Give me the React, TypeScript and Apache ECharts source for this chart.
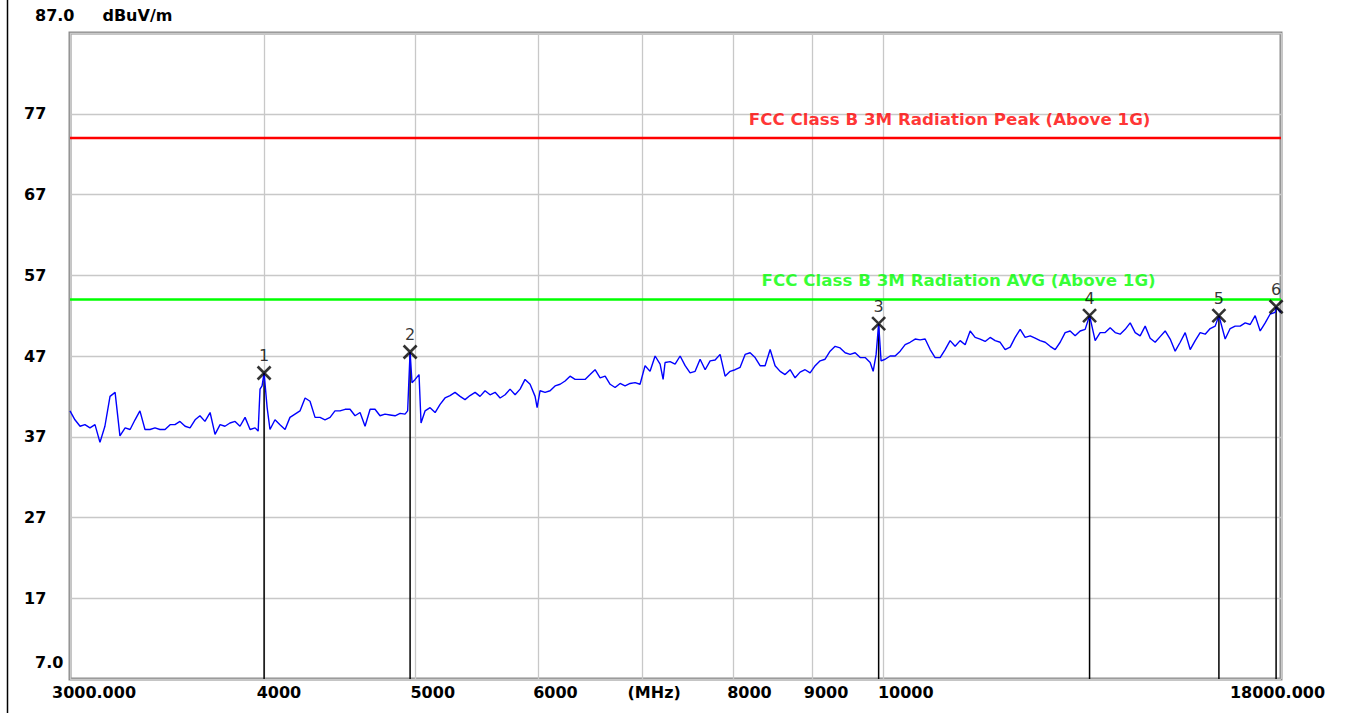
import React, { useEffect, useRef } from 'react';
import * as echarts from 'echarts';

const FREQ_MHZ = [
  3000, 3022, 3045, 3067, 3090, 3113, 3136, 3159, 3183, 3207, 3230, 3255, 3279, 3303, 3327, 3352, 3377, 3402, 3427, 3453,
  3479, 3504, 3530, 3557, 3583, 3610, 3636, 3663, 3691, 3718, 3746, 3773, 3801, 3830, 3858, 3887, 3916, 3945, 3963, 3974, 3986, 3998, 4016,
  4033, 4063, 4093, 4124, 4154, 4185, 4216, 4248, 4279, 4311, 4343, 4375, 4408, 4440, 4473, 4507, 4540, 4574, 4608, 4642,
  4677, 4711, 4746, 4781, 4817, 4853, 4889, 4925, 4944, 4952, 4962, 4976, 4999, 5028, 5043, 5073, 5111, 5149, 5187, 5225, 5264, 5303, 5343, 5382,
  5422, 5463, 5503, 5544, 5585, 5627, 5669, 5711, 5753, 5796, 5839, 5882, 5926, 5970, 5988, 6014, 6059, 6104, 6149, 6195, 6241,
  6287, 6334, 6381, 6428, 6476, 6524, 6573, 6622, 6671, 6720, 6770, 6820, 6871, 6922, 6973, 7025, 7077, 7130, 7183, 7215, 7236,
  7290, 7344, 7399, 7454, 7509, 7565, 7621, 7678, 7735, 7792, 7850, 7908, 7967, 8026, 8086, 8146, 8206, 8267, 8328, 8390,
  8453, 8515, 8579, 8642, 8707, 8771, 8836, 8902, 8968, 9035, 9102, 9169, 9237, 9306, 9375, 9445, 9515, 9586, 9657, 9729,
  9801, 9845, 9888, 9925, 9961, 10021, 10095, 10170, 10246, 10322, 10398, 10476, 10553, 10632, 10711, 10790, 10870, 10951, 11032, 11114, 11197, 11280,
  11364, 11448, 11533, 11619, 11705, 11792, 11880, 11968, 12057, 12146, 12237, 12327, 12419, 12511, 12604, 12698, 12792, 12887, 12983, 13079,
  13176, 13274, 13373, 13472, 13560, 13673, 13774, 13877, 13980, 14084, 14188, 14294, 14400, 14507, 14614, 14723, 14832, 14942, 15053, 15165,
  15278, 15391, 15506, 15621, 15737, 15854, 15971, 16090, 16210, 16330, 16420, 16573, 16696, 16820, 16945, 17071, 17198, 17325, 17454, 17532, 17584, 17714, 17846, 17870, 17979, 18000,
];

const LEVEL_DBUV = [
  40.2, 39.1, 38.3, 38.5, 38.1, 38.5, 36.3, 38.3, 42.0, 42.5, 37.1, 38.1, 37.9, 39.1, 40.2, 37.9, 37.9, 38.1, 37.9, 37.9,
  38.5, 38.5, 38.9, 38.3, 38.1, 39.1, 39.6, 38.9, 40.0, 37.3, 38.5, 38.3, 38.7, 38.9, 38.3, 39.4, 37.9, 38.1, 37.7, 42.9, 43.3, 44.9, 40.6,
  37.9, 39.1, 38.5, 37.9, 39.4, 39.8, 40.2, 41.8, 41.4, 39.4, 39.4, 39.1, 39.4, 40.2, 40.2, 40.4, 40.4, 39.6, 40.0, 38.3,
  40.4, 40.4, 39.6, 39.8, 39.7, 39.6, 39.9, 39.8, 40.2, 43.5, 47.5, 43.7, 44.1, 44.7, 38.7, 40.2, 40.6, 40.0, 41.0, 41.8, 42.1, 42.5, 42.0, 41.6,
  42.1, 42.5, 42.0, 42.7, 42.2, 42.5, 41.8, 42.2, 42.9, 42.2, 42.9, 44.1, 43.5, 42.0, 40.6, 42.7, 42.5, 42.7, 43.3, 43.5, 43.9,
  44.5, 44.1, 44.1, 44.1, 44.7, 45.3, 44.3, 44.5, 43.5, 43.1, 43.6, 43.3, 43.6, 43.7, 43.5, 45.8, 45.1, 47.0, 46.0, 44.1, 46.2,
  46.3, 46.0, 47.0, 45.8, 44.9, 45.1, 46.6, 45.3, 46.4, 46.5, 47.2, 44.5, 45.1, 45.3, 45.6, 47.2, 47.4, 46.8, 45.8, 45.8,
  47.8, 45.8, 45.1, 44.7, 45.3, 44.3, 45.0, 45.3, 44.9, 45.8, 46.4, 46.6, 47.6, 48.2, 48.0, 47.4, 47.2, 47.4, 46.8, 46.8,
  46.2, 45.1, 47.2, 51.0, 46.4, 46.6, 47.0, 47.0, 47.6, 48.4, 48.7, 49.1, 49.0, 49.1, 47.8, 46.8, 46.8, 47.8, 48.9, 48.2, 48.9, 48.4,
  50.1, 49.3, 49.1, 48.8, 49.3, 48.9, 48.7, 47.8, 48.1, 49.3, 50.3, 49.3, 49.5, 49.2, 48.9, 48.7, 48.2, 47.8, 48.7, 49.9,
  50.1, 49.5, 50.1, 50.3, 52.0, 48.9, 49.9, 49.9, 50.5, 49.9, 49.7, 50.3, 51.1, 49.9, 49.5, 50.7, 49.2, 48.7, 49.4, 50.1,
  49.1, 47.6, 48.7, 49.9, 47.8, 48.9, 49.9, 49.7, 50.4, 50.7, 52.0, 49.1, 50.4, 50.7, 50.7, 51.1, 50.9, 52.0, 50.1, 50.7, 51.1, 52.2, 52.4, 53.1, 52.4, 52.6,
];

// Peak markers
const MARKER_LABELS = ['1', '2', '3', '4', '5', '6'];
const MARKER_FREQ = [3998, 4962, 9925, 13560, 16420, 17870];
const MARKER_LEVEL = [44.9, 47.5, 51.0, 52.0, 52.0, 53.1];

// Limit lines
const LIMIT_NAMES = [
  'FCC Class B 3M Radiation Peak (Above 1G)',
  'FCC Class B 3M Radiation AVG (Above 1G)',
];
const LIMIT_LEVELS = [74, 54];
const LIMIT_LABEL_FREQ = [11024, 11172];

// Axes
const X_MIN = 3000;
const X_MAX = 18000;
const X_TICKS = [3000, 4000, 5000, 6000, 7000, 8000, 9000, 10000, 18000];
const X_TICK_LABELS = ['3000.000', '4000', '5000', '6000', '(MHz)', '8000', '9000', '10000', '18000.000'];
const Y_MIN = 7;
const Y_MAX = 87;
const Y_TICKS = [7, 17, 27, 37, 47, 57, 67, 77, 87];
const Y_TICK_LABELS = ['7.0', '17', '27', '37', '47', '57', '67', '77', '87.0'];
const Y_UNIT = 'dBuV/m';

// label paddings (layout only)
const X_LABEL_PAD = [
  [0, 0, 0, 48], [0, 0, 0, 29], [0, 0, 0, 35], [0, 0, 0, 34], [0, 0, 0, 23],
  [0, 0, 0, 33], [0, 0, 0, 27], [0, 0, 0, 44], [0, 7, 0, 0],
];

const FONT = 'DejaVu Sans';
const LIMIT_COLORS = ['#ff0000', '#00ff00'];

function nearestIndex(arr: number[], v: number) {
  let best = 0;
  let bd = Infinity;
  arr.forEach((a, i) => {
    const d = Math.abs(a - v);
    if (d < bd) { bd = d; best = i; }
  });
  return best;
}

export default function App() {
  const ref = useRef<HTMLDivElement>(null);

  useEffect(() => {
    if (!ref.current) return;
    const chart = echarts.init(ref.current, null, { renderer: 'svg' });

    const trace = FREQ_MHZ.map((f, i) => [f, LEVEL_DBUV[i]]);

    const xRich: Record<string, any> = {};
    X_TICKS.forEach((_, i) => {
      xRich['r' + i] = { fontFamily: FONT, fontWeight: 'bold', fontSize: 16, color: '#000', padding: X_LABEL_PAD[i] };
    });

    const yRich: Record<string, any> = {
      n: { fontFamily: FONT, fontWeight: 'bold', fontSize: 16, color: '#000' },
      b: { fontFamily: FONT, fontWeight: 'bold', fontSize: 16, color: '#000', padding: [0, 0, 34, 11] },
      t: { fontFamily: FONT, fontWeight: 'bold', fontSize: 16, color: '#000', padding: [0, 0, 36, 11] },
      u: { fontFamily: FONT, fontWeight: 'bold', fontSize: 16, color: '#000', padding: [0, 0, 36, 28] },
    };

    const dropLines = MARKER_FREQ.map((f, i) => ({
      type: 'line',
      data: [[f, MARKER_LEVEL[i]], [f, Y_MIN]],
      showSymbol: false,
      symbol: 'none',
      silent: true,
      z: 2,
      lineStyle: { color: '#000', width: 1.5 },
    }));

    const limitLines = LIMIT_LEVELS.map((lv, i) => ({
      type: 'line',
      data: [[X_MIN, lv], [X_MAX, lv]],
      showSymbol: false,
      symbol: 'none',
      silent: true,
      z: 3,
      lineStyle: { color: LIMIT_COLORS[i], width: 2.5 },
    }));

    const option: any = {
      animation: false,
      backgroundColor: '#fff',
      textStyle: { fontFamily: FONT },
      grid: {
        left: 70, right: 76, top: 33, bottom: 34,
        show: true, borderColor: '#8c8c8c', borderWidth: 3, backgroundColor: '#fff',
      },
      xAxis: {
        type: 'log',
        logBase: 10,
        min: X_MIN,
        max: X_MAX,
        axisLine: { show: false },
        axisTick: { show: false, customValues: X_TICKS },
        splitLine: { show: true, lineStyle: { color: '#c8c8c8', width: 1.3 } },
        axisLabel: {
          customValues: X_TICKS,
          margin: 5,
          formatter: (v: number) => {
            const i = nearestIndex(X_TICKS, v);
            return '{r' + i + '|' + X_TICK_LABELS[i] + '}';
          },
          rich: xRich,
        },
      },
      yAxis: {
        type: 'value',
        min: Y_MIN,
        max: Y_MAX,
        axisLine: { show: false },
        axisTick: { show: false, customValues: Y_TICKS },
        splitLine: { show: true, lineStyle: { color: '#c8c8c8', width: 1.3 } },
        axisLabel: {
          customValues: Y_TICKS,
          align: 'left',
          margin: 46,
          formatter: (v: number) => {
            const i = nearestIndex(Y_TICKS, v);
            if (i === 0) return '{b|' + Y_TICK_LABELS[i] + '}';
            if (i === Y_TICKS.length - 1) return '{t|' + Y_TICK_LABELS[i] + '}{u|' + Y_UNIT + '}';
            return '{n|' + Y_TICK_LABELS[i] + '}';
          },
          rich: yRich,
        },
      },
      graphic: [
        { type: 'line', shape: { x1: 7.5, y1: 0, x2: 7.5, y2: 713 }, style: { stroke: '#000', lineWidth: 1.5 }, silent: true },
      ],
      series: [
        ...dropLines,
        ...limitLines,
        {
          type: 'scatter',
          silent: true,
          z: 3,
          symbolSize: 1,
          itemStyle: { color: 'rgba(0,0,0,0)' },
          data: LIMIT_NAMES.map((n, i) => ({
            name: n,
            value: [LIMIT_LABEL_FREQ[i], LIMIT_LEVELS[i]],
            label: {
              show: true,
              position: 'top',
              distance: 10,
              formatter: '{b}',
              color: LIMIT_COLORS[i],
              fontFamily: FONT,
              fontWeight: 'bold',
              fontSize: 16.7,
            },
          })),
        },
        {
          type: 'line',
          data: trace,
          showSymbol: false,
          symbol: 'none',
          silent: true,
          z: 4,
          lineStyle: { color: '#0000ff', width: 1.4 },
        },
        {
          type: 'scatter',
          silent: true,
          z: 5,
          symbol: 'path://M0,0L10,10M10,0L0,10',
          symbolSize: 13,
          itemStyle: { color: 'none', borderColor: '#000', borderWidth: 2.6 },
          label: {
            show: true,
            position: 'top',
            distance: 0,
            formatter: '{b}',
            color: '#000',
            fontFamily: FONT,
            fontSize: 16,
            fontWeight: 500,
          },
          data: MARKER_FREQ.map((f, i) => ({ name: MARKER_LABELS[i], value: [f, MARKER_LEVEL[i]] })),
        },
      ],
    };

    chart.setOption(option);
    return () => chart.dispose();
  }, []);

  return (
    <div
      ref={ref}
      style={{ position: 'fixed', left: 0, top: 0, width: 1357, height: 713, background: '#fff' }}
    />
  );
}
